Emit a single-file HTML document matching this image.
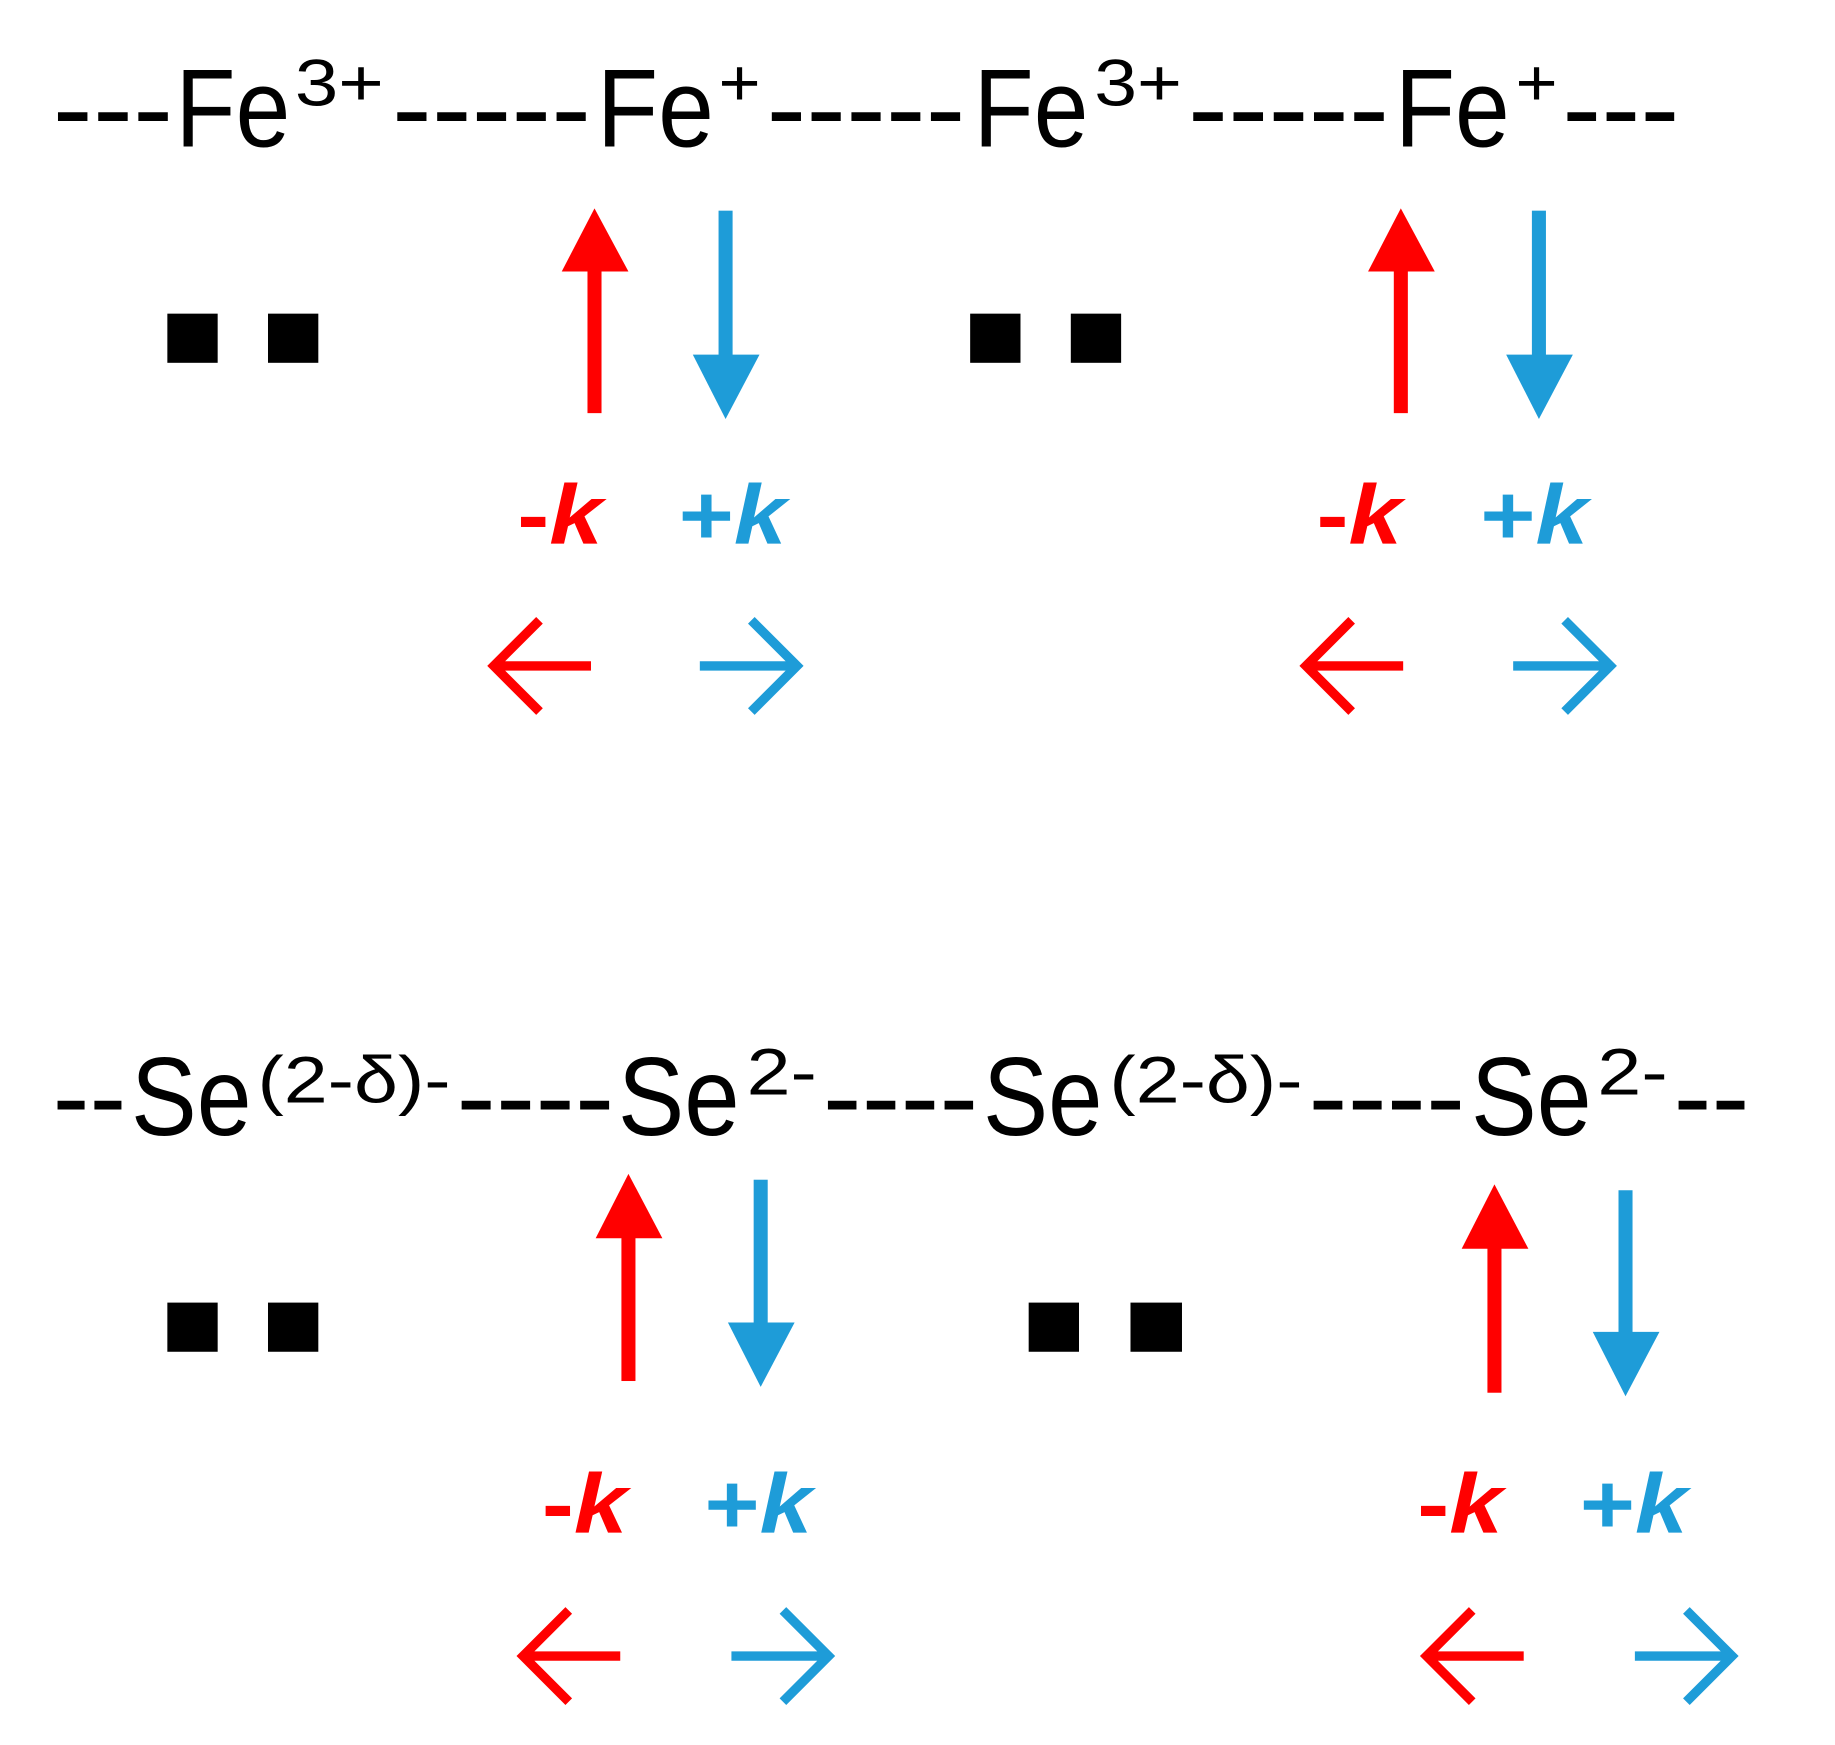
<!DOCTYPE html>
<html><head><meta charset="utf-8"><style>html,body{margin:0;padding:0;background:#fff}svg{display:block}</style></head>
<body>
<svg width="1835" height="1745" viewBox="0 0 1568 1491" preserveAspectRatio="none" xmlns="http://www.w3.org/2000/svg">
<g font-family="Liberation Sans, sans-serif" fill="#000">
<g font-size="95">
<text x="45" y="125" textLength="103" lengthAdjust="spacingAndGlyphs">---</text>
<text x="150" y="125" textLength="98" lengthAdjust="spacingAndGlyphs">Fe</text>
<text x="252" y="90" font-size="56" textLength="76" lengthAdjust="spacingAndGlyphs">3+</text>
<text x="335" y="125" textLength="170" lengthAdjust="spacingAndGlyphs">-----</text>
<text x="510" y="125" textLength="100" lengthAdjust="spacingAndGlyphs">Fe</text>
<text x="614" y="90" font-size="56" textLength="36" lengthAdjust="spacingAndGlyphs">+</text>
<text x="655" y="125" textLength="170" lengthAdjust="spacingAndGlyphs">-----</text>
<text x="832" y="125" textLength="98" lengthAdjust="spacingAndGlyphs">Fe</text>
<text x="935" y="90" font-size="56" textLength="75" lengthAdjust="spacingAndGlyphs">3+</text>
<text x="1015" y="125" textLength="172" lengthAdjust="spacingAndGlyphs">-----</text>
<text x="1192" y="125" textLength="98" lengthAdjust="spacingAndGlyphs">Fe</text>
<text x="1295" y="90" font-size="56" textLength="36" lengthAdjust="spacingAndGlyphs">+</text>
<text x="1335" y="125" textLength="100" lengthAdjust="spacingAndGlyphs">---</text>
</g>
<g font-size="95">
<text x="45" y="970" textLength="63" lengthAdjust="spacingAndGlyphs">--</text>
<text x="112" y="970" textLength="103" lengthAdjust="spacingAndGlyphs">Se</text>
<text x="220" y="942" font-size="56" textLength="165" lengthAdjust="spacingAndGlyphs">(2-δ)-</text>
<text x="390" y="970" textLength="135" lengthAdjust="spacingAndGlyphs">----</text>
<text x="528" y="970" textLength="104" lengthAdjust="spacingAndGlyphs">Se</text>
<text x="638" y="935" font-size="56" textLength="60" lengthAdjust="spacingAndGlyphs">2-</text>
<text x="703" y="970" textLength="133" lengthAdjust="spacingAndGlyphs">----</text>
<text x="840" y="970" textLength="102" lengthAdjust="spacingAndGlyphs">Se</text>
<text x="948" y="942" font-size="56" textLength="165" lengthAdjust="spacingAndGlyphs">(2-δ)-</text>
<text x="1118" y="970" textLength="134" lengthAdjust="spacingAndGlyphs">----</text>
<text x="1257" y="970" textLength="103" lengthAdjust="spacingAndGlyphs">Se</text>
<text x="1365" y="935" font-size="56" textLength="60" lengthAdjust="spacingAndGlyphs">2-</text>
<text x="1430" y="970" textLength="65" lengthAdjust="spacingAndGlyphs">--</text>
</g>
</g>
<g fill="#000">
<rect x="143" y="268" width="43" height="42"/><rect x="229" y="268" width="43" height="42"/>
<rect x="829" y="268" width="43" height="42"/><rect x="915" y="268" width="43" height="42"/>
<rect x="143" y="1113" width="43" height="42"/><rect x="229" y="1113" width="43" height="42"/>
<rect x="879" y="1113" width="43" height="42"/><rect x="966" y="1113" width="44" height="42"/>
</g>
<g>
<rect x="502" y="228" width="12" height="125" fill="#ff0000"/><polygon points="480,232 537,232 508,178" fill="#ff0000"/>
<rect x="614" y="180" width="12" height="127" fill="#1e9cd8"/><polygon points="592,303 649,303 620,358" fill="#1e9cd8"/>
<rect x="1191" y="228" width="12" height="125" fill="#ff0000"/><polygon points="1169,232 1226,232 1197,178" fill="#ff0000"/>
<rect x="1309" y="180" width="12" height="127" fill="#1e9cd8"/><polygon points="1287,303 1344,303 1315,358" fill="#1e9cd8"/>
<rect x="531" y="1054" width="12" height="126" fill="#ff0000"/><polygon points="509,1058 566,1058 537,1003" fill="#ff0000"/>
<rect x="644" y="1008" width="12" height="126" fill="#1e9cd8"/><polygon points="622,1130 679,1130 650,1185" fill="#1e9cd8"/>
<rect x="1271" y="1063" width="12" height="127" fill="#ff0000"/><polygon points="1249,1067 1306,1067 1277,1012" fill="#ff0000"/>
<rect x="1383" y="1017" width="12" height="125" fill="#1e9cd8"/><polygon points="1361,1138 1418,1138 1389,1193" fill="#1e9cd8"/>
</g>
<g font-family="Liberation Sans, sans-serif" font-size="72" font-weight="bold">
<text x="442" y="465" fill="#ff0000" textLength="73" lengthAdjust="spacingAndGlyphs">-<tspan font-style="italic">k</tspan></text>
<text x="580" y="465" fill="#1e9cd8" textLength="92" lengthAdjust="spacingAndGlyphs">+<tspan font-style="italic">k</tspan></text>
<text x="1125" y="465" fill="#ff0000" textLength="73" lengthAdjust="spacingAndGlyphs">-<tspan font-style="italic">k</tspan></text>
<text x="1265" y="465" fill="#1e9cd8" textLength="92" lengthAdjust="spacingAndGlyphs">+<tspan font-style="italic">k</tspan></text>
<text x="463" y="1310" fill="#ff0000" textLength="73" lengthAdjust="spacingAndGlyphs">-<tspan font-style="italic">k</tspan></text>
<text x="602" y="1310" fill="#1e9cd8" textLength="92" lengthAdjust="spacingAndGlyphs">+<tspan font-style="italic">k</tspan></text>
<text x="1211" y="1310" fill="#ff0000" textLength="73" lengthAdjust="spacingAndGlyphs">-<tspan font-style="italic">k</tspan></text>
<text x="1350" y="1310" fill="#1e9cd8" textLength="92" lengthAdjust="spacingAndGlyphs">+<tspan font-style="italic">k</tspan></text>
</g>
<g fill="none" stroke-width="8">
<g stroke="#ff0000">
<path d="M505,569 H422 M461,530 L422,569 L461,608"/>
<path d="M1199,569 H1116 M1155,530 L1116,569 L1155,608"/>
<path d="M530,1415 H447 M486,1376 L447,1415 L486,1454"/>
<path d="M1302,1415 H1219 M1258,1376 L1219,1415 L1258,1454"/>
</g>
<g stroke="#1e9cd8">
<path d="M598,569 H681 M642,530 L681,569 L642,608"/>
<path d="M1293,569 H1376 M1337,530 L1376,569 L1337,608"/>
<path d="M625,1415 H708 M669,1376 L708,1415 L669,1454"/>
<path d="M1397,1415 H1480 M1441,1376 L1480,1415 L1441,1454"/>
</g>
</g>
</svg>
</body></html>
